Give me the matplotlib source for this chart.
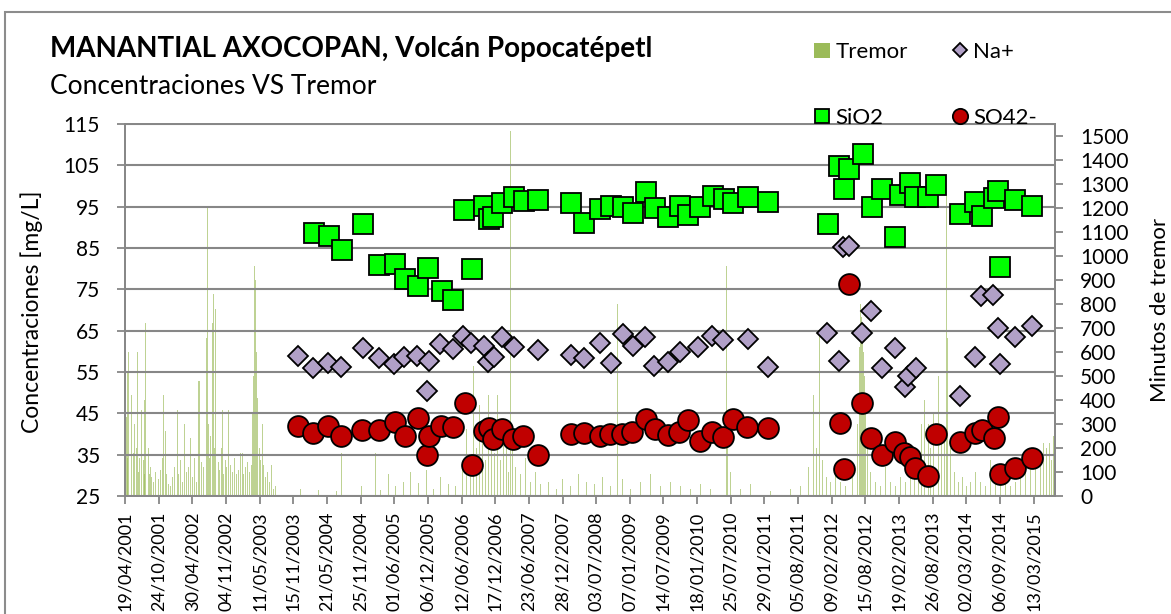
import numpy as np
import pandas as pd
import matplotlib
matplotlib.use("Agg")
import matplotlib.pyplot as plt
from matplotlib.lines import Line2D
from matplotlib.patches import Patch, Rectangle
from matplotlib.ticker import FixedLocator, FuncFormatter

plt.rcParams['font.family'] = ['Lato', 'DejaVu Sans']

# fechas como numero de serie de Excel (dias desde 30/12/1899)
sio2_fecha = [38053, 38139, 38211, 38328, 38420, 38511, 38565, 38639, 38690, 38768,
              38835, 38896, 38941, 39004, 39032, 39056, 39107, 39171, 39227, 39308,
              39494, 39563, 39656, 39715, 39781, 39835, 39910, 39963, 40035, 40099,
              40147, 40210, 40283, 40344, 40394, 40478, 40594, 40925, 40990, 41018,
              41044, 41120, 41170, 41228, 41303, 41329, 41387, 41414, 41483, 41533,
              41667, 41749, 41787, 41852, 41878, 41889, 41969, 42066]
sio2 = [88.6, 88.0, 84.5, 90.8, 80.8, 81.1, 77.4, 75.8, 80.1, 74.6,
        72.4, 94.2, 79.8, 95.2, 92.0, 92.4, 96.0, 97.3, 96.3, 96.5,
        95.8, 91.0, 94.4, 95.2, 95.0, 93.5, 98.5, 94.6, 92.6, 95.1,
        92.9, 95.0, 97.6, 96.8, 95.8, 97.3, 96.1, 90.7, 104.9, 99.3,
        104.0, 107.7, 94.8, 99.2, 87.7, 97.8, 100.7, 97.4, 97.4, 100.2,
        93.2, 96.2, 92.7, 97.0, 98.8, 80.5, 96.6, 95.2]

na_fecha = [37968, 38049, 38133, 38209, 38327, 38418, 38501, 38557, 38632, 38688,
            38699, 38762, 38833, 38889, 38935, 39004, 39026, 39060, 39107, 39171,
            39307, 39491, 39562, 39654, 39713, 39780, 39835, 39907, 39957, 40036,
            40098, 40203, 40277, 40341, 40478, 40592, 40921, 40988, 41011, 41042,
            41118, 41169, 41226, 41303, 41355, 41374, 41416, 41666, 41749, 41783,
            41848, 41874, 41889, 41969, 42066]
na = [58.9, 55.9, 57.1, 56.3, 60.9, 58.3, 56.9, 58.6, 58.9, 50.5,
      57.7, 61.8, 60.6, 63.7, 62.1, 61.4, 57.5, 58.7, 63.5, 61.1,
      60.3, 59.2, 58.4, 62.1, 57.2, 64.3, 61.3, 63.5, 56.5, 57.3,
      59.8, 61.0, 63.7, 62.7, 63.0, 56.1, 64.5, 57.7, 85.3, 85.6,
      64.5, 69.7, 55.9, 60.7, 51.3, 54.0, 55.9, 49.3, 58.7, 73.5,
      73.6, 65.6, 56.9, 63.4, 66.2]

so4_fecha = [37968, 38051, 38134, 38209, 38325, 38418, 38506, 38563, 38637, 38688,
             38700, 38764, 38833, 38897, 38941, 39004, 39034, 39056, 39107, 39169,
             39226, 39305, 39490, 39562, 39654, 39710, 39777, 39833, 39908, 39959,
             40031, 40096, 40145, 40210, 40279, 40341, 40394, 40476, 40590, 40992,
             41014, 41042, 41118, 41169, 41226, 41303, 41353, 41387, 41414, 41483,
             41533, 41667, 41749, 41787, 41854, 41874, 41889, 41969, 42066]
so4 = [41.9, 40.2, 41.9, 39.6, 41.0, 41.0, 43.0, 39.5, 43.9, 34.8,
       39.6, 41.9, 41.8, 47.6, 32.5, 40.8, 41.4, 38.8, 41.2, 38.8,
       39.5, 34.9, 40.0, 40.2, 39.5, 39.9, 40.0, 40.4, 43.6, 41.2,
       39.7, 40.6, 43.5, 38.2, 40.5, 39.3, 43.6, 41.7, 41.4, 42.6,
       31.5, 76.3, 47.6, 39.0, 34.9, 38.1, 35.3, 34.5, 31.7, 29.9,
       40.0, 38.1, 40.2, 41.0, 39.0, 44.0, 30.3, 31.7, 34.1]

tremor_fecha = [37006, 37012, 37016, 37022, 37028, 37034, 37039, 37045, 37051, 37056,
                37062, 37068, 37073, 37079, 37084, 37090, 37095, 37101, 37107, 37111,
                37117, 37123, 37129, 37135, 37140, 37146, 37151, 37160, 37171, 37179,
                37188, 37199, 37210, 37217, 37224, 37232, 37243, 37255, 37266, 37277,
                37292, 37299, 37310, 37322, 37333, 37344, 37355, 37366, 37377, 37389,
                37400, 37411, 37418, 37425, 37430, 37439, 37447, 37454, 37460, 37466,
                37472, 37480, 37487, 37493, 37499, 37508, 37514, 37522, 37528, 37537,
                37543, 37551, 37559, 37567, 37580, 37590, 37601, 37612, 37623, 37634,
                37645, 37655, 37662, 37673, 37685, 37696, 37707, 37714, 37720, 37725,
                37730, 37735, 37740, 37749, 37757, 37767, 37774, 37785, 37796, 37807,
                37819, 37830, 37841, 37849,
                37980, 38081, 38181, 38209, 38321, 38399, 38427, 38472, 38511, 38556,
                38595, 38639, 38684, 38723, 38762, 38807, 38846, 38885, 38907, 38930,
                38946, 38963, 38980, 38997, 39013, 39030, 39047, 39064, 39080, 39097,
                39114, 39131, 39142, 39153, 39164, 39181, 39209, 39237, 39265, 39293,
                39321, 39365, 39410, 39443, 39488, 39533, 39577, 39622, 39667, 39711,
                39749, 39778, 39823, 39879, 39935, 39991, 40046, 40102, 40158, 40214,
                40270, 40359, 40367, 40381, 40437, 40493, 40605, 40716,
                40772, 40817, 40845, 40862, 40878, 40895, 40917, 40940, 40968, 40996,
                41024, 41063, 41091, 41102, 41107, 41113, 41118, 41124, 41130, 41135,
                41146, 41163, 41191, 41219, 41247, 41275, 41303, 41331, 41359, 41386,
                41409, 41431, 41448, 41465, 41480, 41487, 41498, 41515, 41536, 41543,
                41560, 41576, 41591, 41596, 41610, 41632, 41655, 41677, 41699, 41722,
                41749, 41777, 41805, 41833, 41861, 41889, 41917, 41945, 41973, 42001,
                42028, 42056, 42084, 42112, 42129, 42146, 42163, 42174, 42185, 42191]
tremor_min = [330, 160, 520, 600, 250, 420, 720, 180, 300, 120,
              200, 600, 100, 160, 90, 360, 110, 150, 90, 400,
              720, 130, 200, 90, 120, 80, 130, 60, 100, 140,
              70, 110, 160, 420, 270, 90, 50, 40, 80, 120,
              360, 90, 150, 60, 300, 100, 120, 240, 80, 160,
              60, 480, 480, 140, 370, 120, 260, 660, 1200, 300,
              160, 250, 720, 840, 200, 780, 450, 140, 110, 200,
              360, 90, 150, 120, 360, 130, 100, 160, 90, 110,
              180, 180, 90, 120, 140, 100, 130, 345, 500, 960,
              900, 600, 410, 200, 150, 300, 130, 80, 100, 60,
              130, 30, 40, 160,
              30, 25, 20, 180, 40, 180, 25, 90, 40, 60,
              100, 55, 110, 30, 80, 50, 40, 120, 280, 90,
              540, 200, 380, 300, 150, 420, 250, 180, 420, 150,
              300, 230, 100, 1520, 220, 120, 90, 160, 60, 100,
              50, 60, 30, 70, 40, 90, 60, 50, 80, 40,
              800, 70, 30, 60, 90, 40, 60, 40, 30, 50,
              30, 960, 240, 100, 30, 50, 20, 30,
              40, 120, 420, 200, 665, 150, 80, 60, 100, 60,
              40, 120, 300, 620, 800, 745, 700, 600, 500, 400,
              200, 100, 60, 40, 120, 60, 40, 80, 60, 100,
              200, 150, 300, 400, 1025, 300, 200, 350, 1250, 500,
              300, 250, 1250, 660, 200, 100, 60, 80, 40, 60,
              100, 60, 40, 150, 100, 60, 100, 40, 60, 80,
              100, 160, 120, 180, 220, 200, 220, 150, 250, 180]

x_ticks = list(range(37000, 42100, 188))
gris = '#878787'


def serial2txt(v, pos=None):
    d = pd.Timestamp('1899-12-30') + pd.Timedelta(days=int(round(v)))
    return d.strftime('%d/%m/%Y')


W, H = 1171, 614
fig = plt.figure(figsize=(W / 100, H / 100), dpi=100)
ax = fig.add_axes([125 / W, (H - 496) / H, 930 / W, 372 / H])
ax2 = ax.twinx()
ax.set_zorder(ax2.get_zorder() + 1)
ax.patch.set_visible(False)

# tremor en el eje secundario
ax2.bar(tremor_fecha, tremor_min, width=5, color='#9BBB59', alpha=0.65, linewidth=0)
ax2.set_ylim(0, 1550)
ax2.set_yticks(range(0, 1501, 100))

ax.plot(na_fecha, na, ls='none', marker='D', ms=10.5, mfc='#B1A0C7', mec='black', mew=1.3)
ax.plot(sio2_fecha, sio2, ls='none', marker='s', ms=14.5, mfc='#00FF00', mec='black', mew=1.3)
ax.plot(so4_fecha, so4, ls='none', marker='o', ms=15, mfc='#C00000', mec='black', mew=1.3)

ax.set_xlim(37000, 42195)
ax.set_ylim(25, 115)
ax.set_yticks(range(25, 116, 10))
ax.xaxis.set_major_locator(FixedLocator(x_ticks))
ax.xaxis.set_major_formatter(FuncFormatter(serial2txt))
ax.yaxis.grid(True, color=gris, lw=1.5)

for a in (ax, ax2):
    for s in a.spines.values():
        s.set_color(gris)
        s.set_linewidth(1.3)
ax.tick_params(axis='y', direction='out', length=6, width=1.3, color=gris, labelsize=15, pad=12)
ax.tick_params(axis='x', direction='out', length=6, width=1.3, color=gris, labelsize=13, pad=5,
               labelrotation=90)
ax2.tick_params(axis='y', direction='out', length=6, width=1.3, color=gris, labelsize=15, pad=12)

fig.text(31.7 / W, 1 - 312 / H, 'Concentraciones [mg/L]', rotation=90, ha='center', va='center',
         fontsize=16.5)
fig.text(1160 / W, 1 - 310 / H, 'Minutos de tremor', rotation=90, ha='center', va='center',
         fontsize=16)

fig.text(50 / W, 1 - 49 / H, 'MANANTIAL AXOCOPAN, Volcán Popocatépetl', fontsize=20,
         fontweight='bold', va='center')
fig.text(50 / W, 1 - 87 / H, 'Concentraciones VS Tremor', fontsize=19, va='center')

h_tremor = Patch(facecolor='#9BBB59', edgecolor='none', label='Tremor')
h_sio2 = Line2D([], [], ls='none', marker='s', ms=10, mfc='#00FF00', mec='black', mew=1.3, label='SiO2')
h_na = Line2D([], [], ls='none', marker='D', ms=7.5, mfc='#B1A0C7', mec='black', mew=1.3, label='Na+')
h_so4 = Line2D([], [], ls='none', marker='o', ms=11, mfc='#C00000', mec='black', mew=1.3, label='SO42-')
ax.legend(handles=[h_tremor, h_sio2, h_na, h_so4], ncol=2, loc='upper left',
          bbox_to_anchor=(803 / W, 1 - 31 / H), bbox_transform=fig.transFigure,
          frameon=False, fontsize=16, borderpad=0, handlelength=0.7, handleheight=0.7,
          handletextpad=0.25, columnspacing=2.0, labelspacing=2.05)

# marco del grafico
fig.add_artist(Rectangle((5 / W, -0.1), 1.2, 1.1 - 12 / H, transform=fig.transFigure,
                         fill=False, ec='#8C8C8C', lw=1.5))

fig.savefig('out.png', dpi=100, facecolor='white')
